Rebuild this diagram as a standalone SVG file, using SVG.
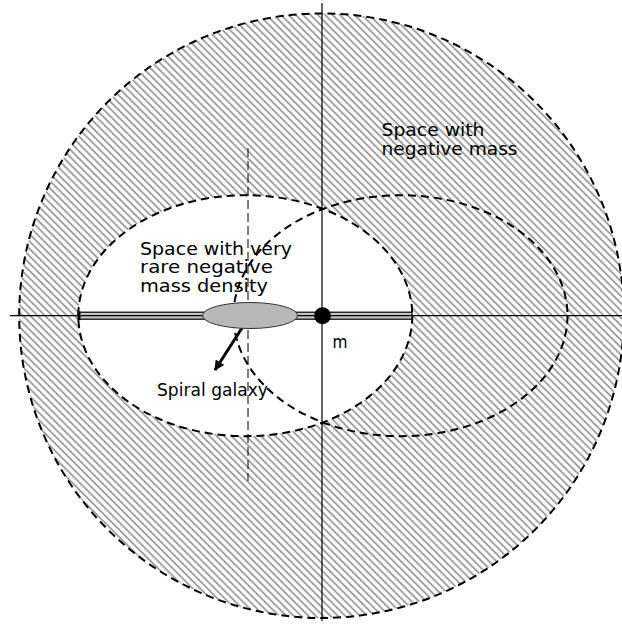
<svg xmlns="http://www.w3.org/2000/svg" width="622" height="625" viewBox="0 0 622 625">
  <defs>
    <pattern id="hatch" patternUnits="userSpaceOnUse" width="5.2" height="10" patternTransform="rotate(-45)">
      <rect width="5.2" height="10" fill="#ffffff"/>
      <line x1="1" y1="0" x2="1" y2="10" stroke="#9a9a9a" stroke-width="1.8"/>
    </pattern>
    <marker id="arrow" viewBox="0 0 10 10" refX="9" refY="5" markerWidth="4.2" markerHeight="3.4" orient="auto" markerUnits="strokeWidth">
      <path d="M0,0 L10,5 L0,10 z" fill="#000"/>
    </marker>
    <style>
      .lbl { font-family: "DejaVu Sans", "Liberation Sans", Arial, sans-serif; font-size: 18px; fill: #000; }
      .dash { fill: none; stroke: #000; stroke-width: 2; stroke-dasharray: 8 5; }
      .axis { stroke: #000; stroke-width: 1.2; fill: none; }
    </style>
  </defs>
  <rect width="622" height="625" fill="#ffffff"/>

  <g id="negative-mass-space">
    <circle cx="321.5" cy="315.7" r="302.3" fill="url(#hatch)"/>
  </g>
  <g id="rare-space">
    <ellipse cx="245.3" cy="315.7" rx="167" ry="120.5" fill="#ffffff"/>
  </g>

  <g id="connectors">
    <line class="axis" x1="10" y1="315.7" x2="622" y2="315.7"/>
    <line class="axis" x1="322" y1="3" x2="322" y2="621"/>
    <line x1="248" y1="148" x2="248" y2="481" stroke="#000" stroke-width="1" stroke-dasharray="9 4"/>
    <circle class="dash" cx="321.5" cy="315.7" r="302.3"/>
    <ellipse class="dash" cx="245.3" cy="315.7" rx="167" ry="120.5"/>
    <ellipse class="dash" cx="400.5" cy="315.7" rx="167" ry="120.5"/>
    <line x1="242" y1="328" x2="215" y2="370" stroke="#000" stroke-width="3" marker-end="url(#arrow)"/>
  </g>

  <g id="galaxy-disk">
    <rect x="78.5" y="312.2" width="333.5" height="7" fill="#c4c4c4" stroke="#000" stroke-width="1.2"/>
    <line x1="78.5" y1="315.7" x2="412" y2="315.7" stroke="#000" stroke-width="1.2"/>
    <line x1="79" y1="311.5" x2="79" y2="320" stroke="#000" stroke-width="3"/>
  </g>
  <g id="galaxy-bulge">
    <ellipse cx="250" cy="315.5" rx="47.5" ry="13" fill="#b8b8b8" stroke="#333" stroke-width="1"/>
  </g>
  <g id="mass-m">
    <circle cx="322.5" cy="315.7" r="8.5" fill="#000"/>
    <text class="lbl" x="332.5" y="348" textLength="15" lengthAdjust="spacingAndGlyphs">m</text>
  </g>

  <g id="label-negative">
    <text class="lbl" x="381.5" y="136" textLength="103" lengthAdjust="spacingAndGlyphs">Space with</text>
    <text class="lbl" x="381.5" y="154.5" textLength="136" lengthAdjust="spacingAndGlyphs">negative mass</text>
  </g>
  <g id="label-rare">
    <text class="lbl" x="140" y="254.5" textLength="152" lengthAdjust="spacingAndGlyphs">Space with very</text>
    <text class="lbl" x="140" y="273" textLength="133" lengthAdjust="spacingAndGlyphs">rare negative</text>
    <text class="lbl" x="140" y="291.5" textLength="128" lengthAdjust="spacingAndGlyphs">mass density</text>
  </g>
  <g id="label-galaxy">
    <text class="lbl" x="157" y="396" textLength="111" lengthAdjust="spacingAndGlyphs">Spiral galaxy</text>
  </g>
</svg>
